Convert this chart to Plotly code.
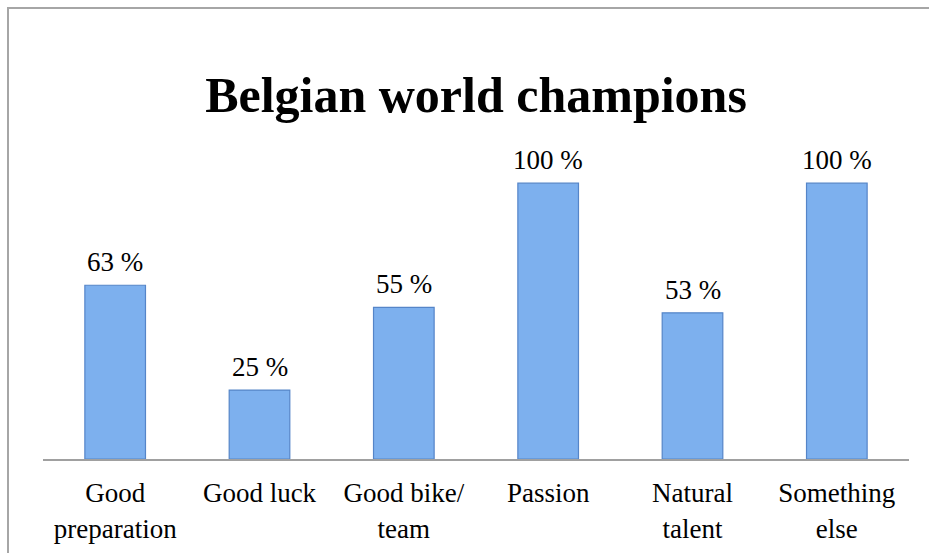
import plotly.graph_objects as go

# Survey results: what made the Belgian world champions
categories = ["Good<br>preparation", "Good luck", "Good bike/<br>team", "Passion",
              "Natural<br>talent", "Something<br>else"]
values = [63, 25, 55, 100, 53, 100]
value_labels = [f"{v} %" for v in values]

W, H = 929, 553
M_L, M_R, M_T, M_B = 43, 20, 128, 94
Y_MAX = 120

serif = "Liberation Serif"

fig = go.Figure()
fig.add_trace(go.Bar(
    x=categories,
    y=values,
    marker=dict(color="#7db0ee", line=dict(color="#5585c8", width=1.2)),
    width=0.42,
    hoverinfo="x+y",
))

# value labels above each bar
for c, v, t in zip(categories, values, value_labels):
    fig.add_annotation(x=c, y=v, text=t, showarrow=False, yanchor="bottom",
                       yshift=6, font=dict(family=serif, size=27, color="#000000"))

# outer chart frame
plot_w = W - M_L - M_R
plot_h = H - M_T - M_B
def px_x(p):
    return (p - M_L) / plot_w
def px_y(p):
    return (H - M_B - p) / plot_h

fig.add_shape(type="rect", xref="paper", yref="paper",
              x0=px_x(8), x1=px_x(W + 10), y0=px_y(H + 10), y1=px_y(8),
              line=dict(color="#a6a6a6", width=2), fillcolor="rgba(0,0,0,0)", layer="below")

fig.update_layout(
    width=W, height=H,
    margin=dict(l=M_L, r=M_R, t=M_T, b=M_B, pad=0, autoexpand=False),
    paper_bgcolor="white", plot_bgcolor="white",
    showlegend=False,
    font=dict(family=serif),
    title=dict(text="<b>Belgian world champions</b>", x=0.5, xref="paper",
               y=1 - 94 / H, yanchor="middle",
               font=dict(family=serif, size=50, color="#000000")),
    xaxis=dict(showline=True, linecolor="#a0a0a0", linewidth=2, ticks="",
               tickfont=dict(family=serif, size=27, color="#000000"),
               ticklabelstandoff=9, showgrid=False, fixedrange=True,
               automargin=False),
    yaxis=dict(range=[0, Y_MAX], visible=False, showgrid=False, fixedrange=True,
               automargin=False),
)

fig.write_html("out.html")
